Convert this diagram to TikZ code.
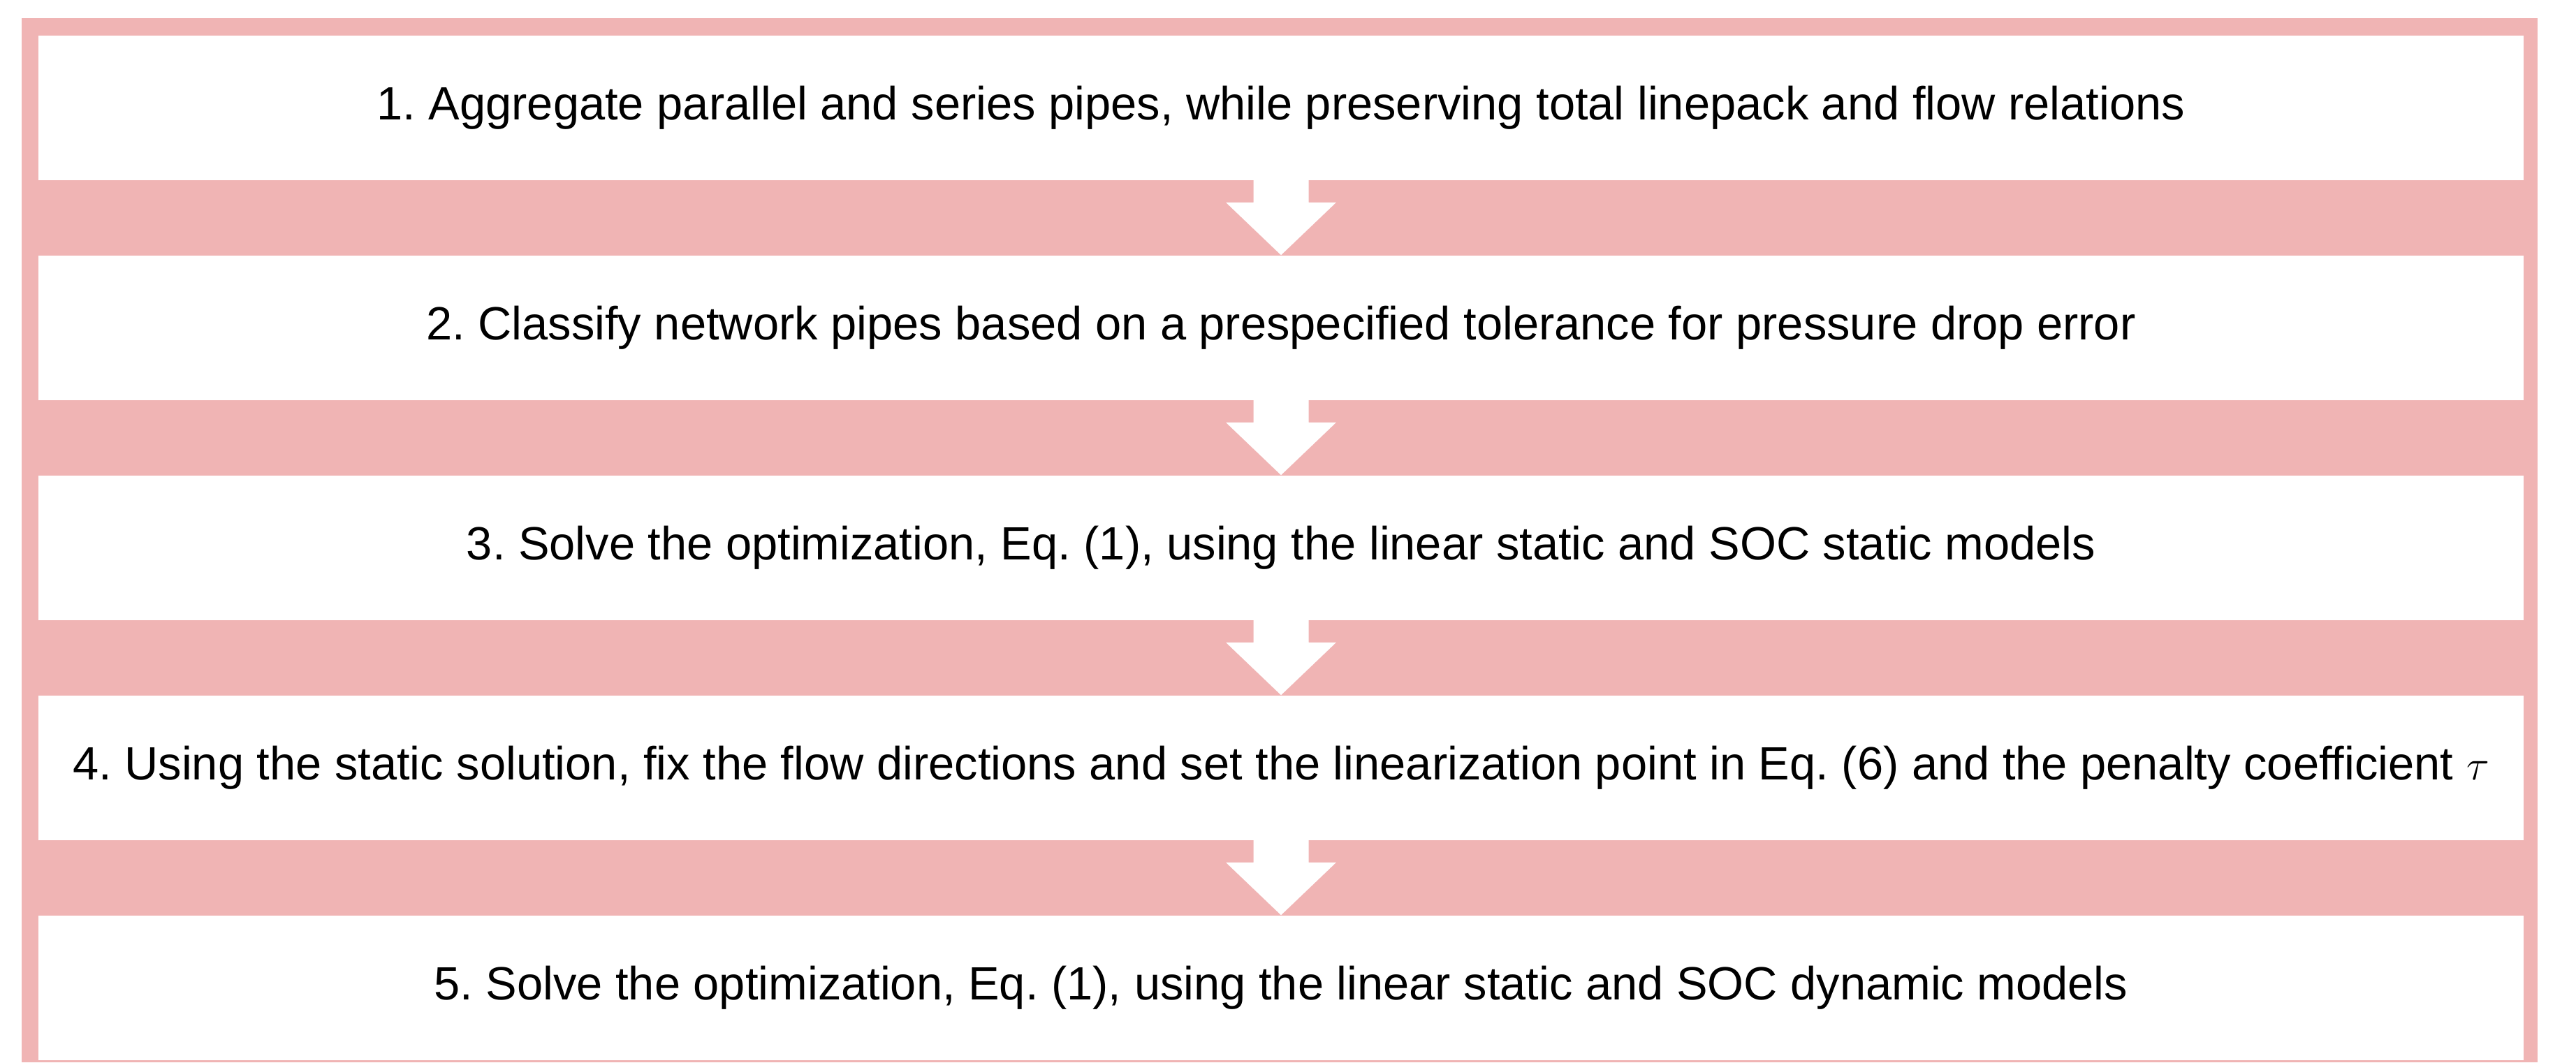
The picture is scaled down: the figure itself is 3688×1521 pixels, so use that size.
\documentclass[tikz,border=0pt]{standalone}
\usepackage{fontspec}
\setmainfont{Liberation Sans}
\usetikzlibrary{calc}
\definecolor{bandpink}{RGB}{240,180,180}
\frenchspacing
\begin{document}
\begin{tikzpicture}[x=0.01cm,y=-0.01cm,
  stepbox/.style={fill=white, draw=none, inner sep=0pt,
    minimum width=35.56cm, minimum height=2.07cm,
    font=\fontsize{19}{23}\selectfont},
  flowarrow/.style={fill=white, draw=none}]
  \useasboundingbox (0,0) rectangle (3688,1521);
  % pink frame behind the steps
  \fill[bandpink] (31,26) rectangle (3633,1521);
  % the five steps
  \node[stepbox] (b1) at (1834,154.5) {1. Aggregate parallel and series pipes, while preserving total linepack and flow relations};
  \node[stepbox] (b2) at (1834,469.5) {2. Classify network pipes based on a prespecified tolerance for pressure drop error};
  \node[stepbox] (b3) at (1834,784.5) {3. Solve the optimization, Eq. (1), using the linear static and SOC static models};
  \node[stepbox] (b4) at (1834,1099.5) {4. Using the static solution, fix the flow directions and set the linearization point in Eq. (6) and the penalty coefficient $\tau$};
  \node[stepbox] (b5) at (1834,1414.5) {5. Solve the optimization, Eq. (1), using the linear static and SOC dynamic models};
  % white block arrows between consecutive steps
  \foreach \a/\b in {b1/b2,b2/b3,b3/b4,b4/b5}{
    \fill[flowarrow] ($(\a.south)+(-39.5,-1)$) -- ($(\a.south)+(39.5,-1)$)
      -- ($(\a.south)+(39.5,31)$) -- ($(\a.south)+(79,31)$)
      -- (\b.north) -- ($(\a.south)+(-79,31)$)
      -- ($(\a.south)+(-39.5,31)$) -- cycle;
  }
\end{tikzpicture}
\end{document}
